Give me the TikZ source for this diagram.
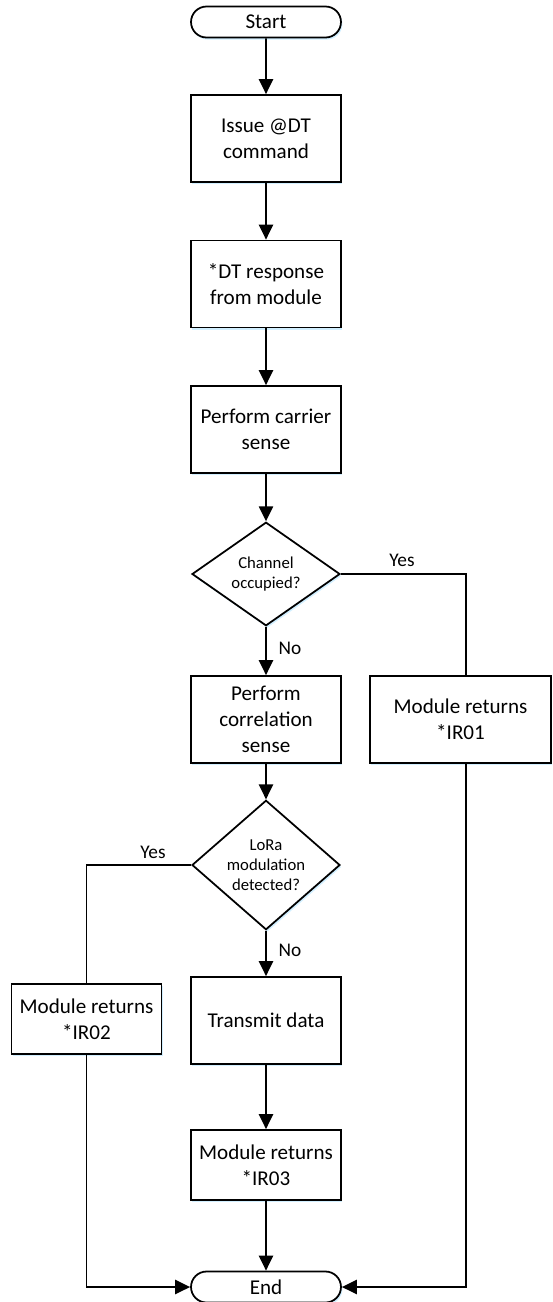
\documentclass[tikz,border=0pt]{standalone}
\usepackage{fontspec}
\setmainfont{Carlito}
\usetikzlibrary{shapes.geometric,shapes.misc,arrows.meta,shadows}
\begin{document}
\begin{tikzpicture}[x=0.02cm,y=0.02cm,
  every node/.style={font=\fontsize{12}{14.7}\selectfont},
  shad/.style={drop shadow={shadow xshift=0.8pt,shadow yshift=-1.2pt,fill=blue!35!cyan,opacity=0.18}},
  box/.style={draw,rectangle,line width=1pt,fill=white,align=center,inner sep=0pt,minimum width=3cm,minimum height=1.74cm,shad},
  term/.style={draw,rounded rectangle,line width=1pt,fill=white,inner sep=0pt,minimum width=3cm,minimum height=0.62cm,shad},
  dec/.style={draw,diamond,line width=1pt,fill=white,align=center,inner sep=0pt,minimum width=2.96cm,font=\fontsize{9.5}{11.5}\selectfont,shad},
  conn/.style={line width=1.1pt,-{Triangle[length=8.5pt,width=8pt]}},
  line/.style={line width=1.1pt},
  lab/.style={font=\fontsize{11}{13}\selectfont}
]
\useasboundingbox (0,0) rectangle (552,-1302);
\node[term] (start) at (266,-22) {Start};
\node[box] (issue) at (266,-138.5) {Issue @DT\\command};
\node[box] (resp) at (266,-284) {*DT response\\from module};
\node[box] (carrier) at (266,-429.5) {Perform carrier\\sense};
\node[dec,minimum height=1.72cm] (d1) at (266,-574) {Channel\\occupied?};
\node[box] (corr) at (266,-719.5) {Perform\\correlation\\sense};
\node[box,minimum width=3.62cm] (ir01) at (460.5,-719.5) {Module returns\\*IR01};
\node[dec,minimum height=2.08cm] (d2) at (266,-865) {LoRa\\modulation\\detected?};
\node[box,minimum height=1.4cm] (ir02) at (86.5,-1019) {Module returns\\*IR02};
\node[box] (tx) at (266,-1020.5) {Transmit data};
\node[box,minimum height=1.4cm] (ir03) at (266,-1165) {Module returns\\*IR03};
\node[term] (end) at (266,-1287) {End};

\draw[conn] (start) -- (issue);
\draw[conn] (issue) -- (resp);
\draw[conn] (resp) -- (carrier);
\draw[conn] (carrier) -- (d1);
\draw[conn] (d1) -- (corr);
\draw[conn] (corr) -- (d2);
\draw[conn] (d2) -- (tx);
\draw[conn] (tx) -- (ir03);
\draw[conn] (ir03) -- (end);

\coordinate (r1) at (466,-574);
\draw[line] (d1.east) -- (r1) -- (r1 |- ir01.north);
\draw[conn] (r1 |- ir01.south) |- (end.east);
\draw[line] (d2.west) -| (ir02.north);
\draw[conn] (ir02.south) |- (end.west);

\node[lab] (y1) at (402,-560) {Yes};
\node[lab] (n1) at (290,-648) {No};
\node[lab] (y2) at (153,-852) {Yes};
\node[lab] (n2) at (290,-950) {No};
\end{tikzpicture}
\end{document}
